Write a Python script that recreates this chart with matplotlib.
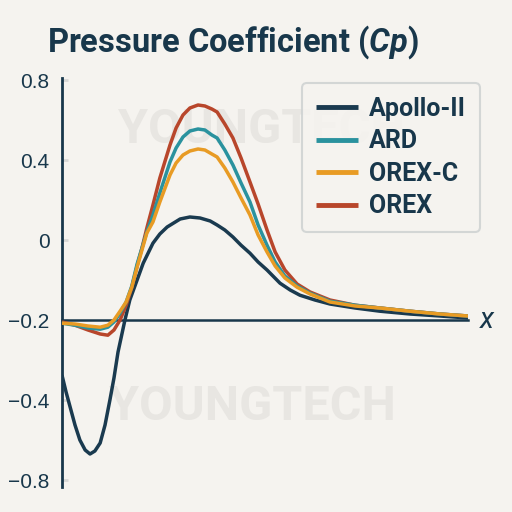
import numpy as np
import matplotlib
matplotlib.use("Agg")
import matplotlib.pyplot as plt
from matplotlib.transforms import blended_transform_factory

# Surface pressure coefficient along the body (x in arbitrary units, 0..10)
apollo_x = [0.00, 0.10, 0.20, 0.32, 0.44, 0.57, 0.69, 0.81, 0.94, 1.06, 1.18, 1.28,
            1.38, 1.48, 1.55, 1.67, 1.85, 2.00, 2.24, 2.41, 2.59, 2.91, 3.15, 3.40,
            3.65, 3.82, 4.01, 4.21, 4.41, 4.63, 4.83, 5.05, 5.37, 5.62, 5.86, 6.23,
            6.60, 7.22, 7.83, 8.57, 9.31, 10.00]
apollo_cp = [-0.338, -0.380, -0.435, -0.525, -0.600, -0.650, -0.670, -0.655, -0.615,
             -0.525, -0.400, -0.345, -0.280, -0.233, -0.200, -0.150, -0.100, -0.058,
             -0.008, 0.030, 0.065, 0.105, 0.115, 0.110, 0.095, 0.075, 0.050, 0.015,
             -0.013, -0.033, -0.055, -0.075, -0.108, -0.125, -0.138, -0.150, -0.160,
             -0.170, -0.178, -0.185, -0.190, -0.195]

cap_x = [0.00, 0.32, 0.64, 0.94, 1.13, 1.28, 1.43, 1.58, 1.72, 1.85, 1.97, 2.09,
         2.24, 2.41, 2.66, 2.81, 2.98, 3.15, 3.35, 3.52, 3.69, 3.82, 4.01, 4.21,
         4.41, 4.63, 4.83, 5.05, 5.25, 5.49, 5.79, 6.11, 6.60, 7.22, 7.83, 8.57,
         9.31, 10.00]
ard_cp = [-0.208, -0.213, -0.220, -0.223, -0.218, -0.205, -0.183, -0.155, -0.115,
          -0.060, -0.020, 0.040, 0.125, 0.235, 0.390, 0.460, 0.515, 0.545, 0.555,
          0.550, 0.525, 0.510, 0.450, 0.375, 0.285, 0.190, 0.075, -0.013, -0.055,
          -0.090, -0.115, -0.133, -0.153, -0.163, -0.170, -0.178, -0.185, -0.190]
orexc_cp = [-0.208, -0.210, -0.215, -0.218, -0.213, -0.200, -0.178, -0.155, -0.118,
            -0.068, -0.025, 0.035, 0.090, 0.190, 0.325, 0.385, 0.425, 0.445, 0.455,
            0.450, 0.430, 0.415, 0.360, 0.290, 0.210, 0.125, 0.025, -0.030, -0.065,
            -0.095, -0.118, -0.135, -0.155, -0.165, -0.170, -0.178, -0.185, -0.190]
orex_cp = [-0.205, -0.213, -0.225, -0.235, -0.238, -0.225, -0.200, -0.163, -0.118,
           -0.065, -0.020, 0.060, 0.175, 0.310, 0.475, 0.560, 0.625, 0.660, 0.675,
           0.670, 0.655, 0.640, 0.580, 0.510, 0.410, 0.290, 0.180, 0.050, -0.030,
           -0.075, -0.110, -0.130, -0.150, -0.163, -0.170, -0.178, -0.185, -0.190]

tick_vals = [0.8, 0.4, 0.0, -0.2, -0.4, -0.8]
tick_labels = ["0.8", "0.4", "0", "\u22120.2", "\u22120.4", "\u22120.8"]

# the y axis is not evenly spaced: piecewise linear scale between the ticks
cp_knots = [-1.6, -0.8, -0.4, -0.2, 0.0, 0.4, 0.8, 1.6]
pos_knots = [-2, 0, 1, 2, 3, 4, 5, 7]


def forward(v):
    return np.interp(v, cp_knots, pos_knots)


def inverse(p):
    return np.interp(p, pos_knots, cp_knots)


navy = "#18374b"
bg = "#f5f3ef"
plt.rcParams["font.family"] = ["Roboto", "DejaVu Sans"]
plt.rcParams["mathtext.fontset"] = "custom"
plt.rcParams["mathtext.it"] = "Roboto:italic:bold"
plt.rcParams["mathtext.rm"] = "Roboto:bold"

fig = plt.figure(figsize=(5.12, 5.12), dpi=100, facecolor=bg)
ax = fig.add_axes([62 / 512, 25 / 512, 406 / 512, 409 / 512])
ax.set_facecolor(bg)
ax.set_yscale("function", functions=(forward, inverse))
ax.set_xlim(0, 10)
ax.set_ylim(-0.835, 0.81)

# watermarks
wm = blended_transform_factory(ax.transAxes, ax.transData)
for xw, yw in [(0.49, 0.55), (0.47, -0.436)]:
    ax.text(xw, yw, "YOUNGTECH", transform=wm, ha="center", va="center",
            fontsize=35, fontweight="bold", color="#e8e6e2", zorder=0)

kw = dict(lw=2.5, zorder=3, solid_joinstyle="round", solid_capstyle="butt")
l1, = ax.plot(apollo_x, apollo_cp, color="#1a3a4f", **kw)
l4, = ax.plot(cap_x, orex_cp, color="#b8462b", **kw)
l2, = ax.plot(cap_x, ard_cp, color="#2a929e", **kw)
l3, = ax.plot(cap_x, orexc_cp, color="#e89b24", **kw)

for s in ["top", "right"]:
    ax.spines[s].set_visible(False)
ax.spines["left"].set_color(navy)
ax.spines["left"].set_linewidth(2.0)
ax.spines["bottom"].set_position(("data", -0.2))
ax.spines["bottom"].set_color(navy)
ax.spines["bottom"].set_linewidth(1.8)
ax.spines["bottom"].set_zorder(2)

ax.set_xticks([])
ax.set_yticks(tick_vals)
ax.set_yticklabels(tick_labels, family=["Liberation Sans", "DejaVu Sans"])
ax.yaxis.set_minor_locator(matplotlib.ticker.NullLocator())
ax.tick_params(axis="y", direction="in", length=4, width=2, color="#d8d8d6",
               labelsize=15, labelcolor=navy, pad=9)

ax.text(1.03, -0.2, "x", transform=wm, ha="left", va="center",
        fontsize=21, fontstyle="italic", color=navy)

leg = ax.legend([l1, l2, l3, l4], ["Apollo-II", "ARD", "OREX-C", "OREX"],
                loc="upper right", bbox_to_anchor=(480 / 512, 429 / 512),
                bbox_transform=fig.transFigure, borderaxespad=0,
                prop={"size": 18, "weight": "bold"}, handlelength=1.7,
                handletextpad=0.45, labelspacing=0.34, borderpad=0.55,
                frameon=True, fancybox=True, facecolor=bg, edgecolor="#cdd1d1",
                framealpha=0.85)
leg.get_frame().set_linewidth(1.5)
for t in leg.get_texts():
    t.set_color(navy)
for h in leg.legend_handles:
    h.set_linewidth(3.5)

fig.text(47 / 512, 460 / 512, "Pressure Coefficient ($\\mathit{Cp}$)", fontsize=23.5,
         fontweight="bold", color=navy, va="baseline", ha="left")

fig.savefig("out.png", dpi=100, facecolor=bg)
